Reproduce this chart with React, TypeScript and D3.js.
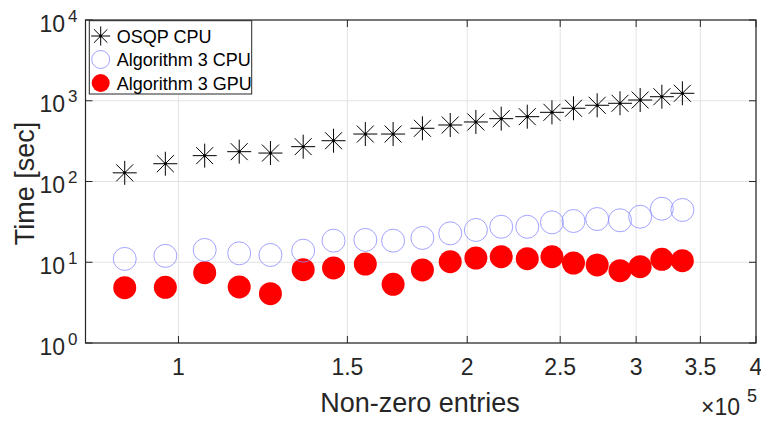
import React from "react";
import * as d3 from "d3";

const nnz = [87900, 96900, 106500, 115700, 124700, 134900, 145100, 156600, 167400, 179600, 192000, 204200, 217000, 231000, 245100, 258100, 273200, 288600, 302900, 319100, 335200];
const osqpCpu = [128, 166, 209, 234, 225, 270, 320, 387, 387, 456, 501, 546, 600, 635, 719, 807, 879, 930, 1021, 1122, 1237];
const alg3Cpu = [11.0, 12.0, 14.2, 12.9, 12.3, 13.9, 18.5, 18.9, 18.5, 20.0, 22.8, 25.1, 27.5, 27.5, 31.2, 32.4, 34.3, 33.1, 36.6, 46.0, 44.4];
const alg3Gpu = [4.84, 4.89, 7.42, 4.94, 4.08, 8.09, 8.49, 9.51, 5.33, 8.02, 10.16, 11.29, 11.72, 11.07, 11.72, 9.79, 9.25, 7.86, 8.81, 10.88, 10.45];

const xTicks = [1e5, 1.5e5, 2e5, 2.5e5, 3e5, 3.5e5, 4e5];
const xTickLabels = ["1", "1.5", "2", "2.5", "3", "3.5", "4"];
const yTicks = [1, 10, 100, 1000, 10000];
const yTickExps = ["0", "1", "2", "3", "4"];
const legendLabels = ["OSQP CPU", "Algorithm 3 CPU", "Algorithm 3 GPU"];

const FONT = "'Liberation Sans', Arial, Helvetica, sans-serif";
const AX = "#262626";

function Star({ cx, cy, r }: { cx: number; cy: number; r: number }) {
  const d = r * Math.SQRT1_2;
  return (
    <g stroke="#000" strokeWidth={1}>
      <line x1={cx - r} y1={cy} x2={cx + r} y2={cy} />
      <line x1={cx} y1={cy - r} x2={cx} y2={cy + r} />
      <line x1={cx - d} y1={cy - d} x2={cx + d} y2={cy + d} />
      <line x1={cx - d} y1={cy + d} x2={cx + d} y2={cy - d} />
      <circle cx={cx} cy={cy} r={1.5} fill="#000" stroke="none" />
    </g>
  );
}

export default function App() {
  const W = 761, H = 424;
  const L = 85.5, R = 756, T = 20, B = 343;
  const x = d3.scaleLog().domain([8e4, 4e5]).range([L, R]);
  const y = d3.scaleLog().domain([1, 1e4]).range([B, T]);
  const tickLen = 7;
  const mr = 11.5;

  return (
    <svg width={W} height={H} style={{ position: "absolute", left: 0, top: 0 }} fontFamily={FONT}>
      <rect x={0} y={0} width={W} height={H} fill="#fff" />
      {/* grid */}
      <g stroke="#e3e3e3" strokeWidth={1}>
        {xTicks.map((t, i) => (
          <line key={"gx" + i} x1={x(t)} x2={x(t)} y1={T} y2={B} />
        ))}
        {yTicks.map((t, i) => (
          <line key={"gy" + i} x1={L} x2={R} y1={y(t)} y2={y(t)} />
        ))}
      </g>
      {/* data */}
      <g>
        {nnz.map((v, i) => (
          <circle key={"g" + i} cx={x(v)} cy={y(alg3Gpu[i])} r={mr} fill="#ff0000" />
        ))}
        {nnz.map((v, i) => (
          <circle key={"c" + i} cx={x(v)} cy={y(alg3Cpu[i])} r={mr} fill="none" stroke="#8c8cff" strokeWidth={0.8} />
        ))}
        {nnz.map((v, i) => (
          <Star key={"s" + i} cx={x(v)} cy={y(osqpCpu[i])} r={12} />
        ))}
      </g>
      {/* axes box */}
      <rect x={L} y={T} width={R - L} height={B - T} fill="none" stroke={AX} strokeWidth={1.2} />
      <g stroke={AX} strokeWidth={1}>
        {xTicks.map((t, i) => (
          <g key={"xt" + i}>
            <line x1={x(t)} x2={x(t)} y1={B} y2={B - tickLen} />
            <line x1={x(t)} x2={x(t)} y1={T} y2={T + tickLen} />
          </g>
        ))}
        {yTicks.map((t, i) => (
          <g key={"yt" + i}>
            <line x1={L} x2={L + tickLen} y1={y(t)} y2={y(t)} />
            <line x1={R} x2={R - tickLen} y1={y(t)} y2={y(t)} />
          </g>
        ))}
      </g>
      {/* x tick labels */}
      <g fill={AX} fontSize={23} textAnchor="middle">
        {xTicks.map((t, i) => (
          <text key={"xl" + i} x={x(t)} y={375}>{xTickLabels[i]}</text>
        ))}
      </g>
      {/* y tick labels */}
      <g fill={AX} textAnchor="end">
        {yTicks.map((t, i) => (
          <g key={"yl" + i}>
            <text x={65} y={y(t) + 11.5} fontSize={23}>10</text>
            <text x={77.5} y={y(t) + 1.5} fontSize={17}>{yTickExps[i]}</text>
          </g>
        ))}
      </g>
      {/* multiplier */}
      <g fill={AX} textAnchor="end">
        <text x={740} y={415} fontSize={23}>×10</text>
        <text x={757} y={401.5} fontSize={18}>5</text>
      </g>
      {/* axis labels */}
      <text x={420} y={411.5} fontSize={27} textAnchor="middle" fill={AX}>Non-zero entries</text>
      <text transform="translate(33.5,183.5) rotate(-90)" fontSize={27} textAnchor="middle" fill={AX}>Time [sec]</text>
      {/* legend */}
      <g>
        <rect x={89.3} y={20.7} width={162.4} height={73.3} fill="#fff" stroke={AX} strokeWidth={1} />
        <Star cx={100.7} cy={36} r={9.5} />
        <circle cx={100.7} cy={59.5} r={9} fill="none" stroke="#8c8cff" strokeWidth={0.8} />
        <circle cx={100.7} cy={83} r={9} fill="#ff0000" />
        <g fontSize={18} fill="#000">
          {legendLabels.map((s, i) => (
            <text key={"lg" + i} x={116.7} y={[36, 59.5, 83][i] + 6.5}>{s}</text>
          ))}
        </g>
      </g>
    </svg>
  );
}
